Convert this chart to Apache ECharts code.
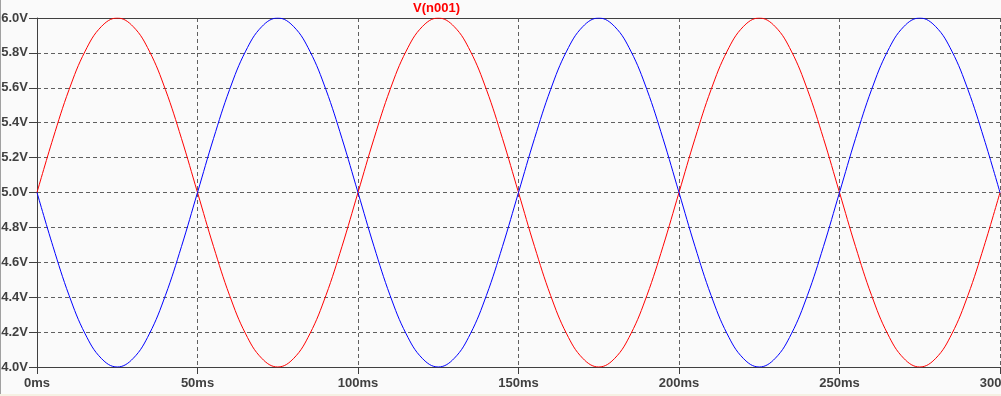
<!DOCTYPE html>
<html>
<head>
<meta charset="utf-8">
<script src="https://cdn.jsdelivr.net/npm/echarts@6/dist/echarts.min.js"></script>
<style>
html,body{margin:0;padding:0;background:#fafafa;}
#c{width:1001px;height:396px;}
</style>
</head>
<body>
<div id="c"></div>
<script>
// time in ms
var timeMs = [0,5,10,15,20,25,30,35,40,45,50,55,60,65,70,75,80,85,90,95,
  100,105,110,115,120,125,130,135,140,145,150,155,160,165,170,175,180,185,190,195,
  200,205,210,215,220,225,230,235,240,245,250,255,260,265,270,275,280,285,290,295,300];
// red trace V(n001)
var redV = [5.00,5.31,5.59,5.81,5.95,6.00,5.95,5.81,5.59,5.31,5.00,4.69,4.41,4.19,4.05,4.00,4.05,4.19,4.41,4.69,
  5.00,5.31,5.59,5.81,5.95,6.00,5.95,5.81,5.59,5.31,5.00,4.69,4.41,4.19,4.05,4.00,4.05,4.19,4.41,4.69,
  5.00,5.31,5.59,5.81,5.95,6.00,5.95,5.81,5.59,5.31,5.00,4.69,4.41,4.19,4.05,4.00,4.05,4.19,4.41,4.69,5.00];
// blue trace
var blueV = [5.00,4.69,4.41,4.19,4.05,4.00,4.05,4.19,4.41,4.69,5.00,5.31,5.59,5.81,5.95,6.00,5.95,5.81,5.59,5.31,
  5.00,4.69,4.41,4.19,4.05,4.00,4.05,4.19,4.41,4.69,5.00,5.31,5.59,5.81,5.95,6.00,5.95,5.81,5.59,5.31,
  5.00,4.69,4.41,4.19,4.05,4.00,4.05,4.19,4.41,4.69,5.00,5.31,5.59,5.81,5.95,6.00,5.95,5.81,5.59,5.31,5.00];
var titleText = 'V(n001)';
var xMin = 0, xMax = 300, xStep = 50;
var yMin = 4.0, yMax = 6.0, yStep = 0.2;

function pairs(xs, ys){ return xs.map(function(x,i){ return [x, ys[i]]; }); }

var axisColor = '#404040';
var labelFont = {color: axisColor, fontFamily: 'Liberation Sans', fontWeight: 'bold', fontSize: 13};

var chart = echarts.init(document.getElementById('c'), null, {renderer: 'canvas'});
chart.setOption({
  backgroundColor: '#fafafa',
  animation: false,
  grid: {left: 37, right: 1, top: 18, bottom: 29, containLabel: false, outerBoundsMode: 'none'},
  xAxis: [{
    type: 'value', min: xMin, max: xMax, interval: xStep,
    axisLine: {show: true, lineStyle: {color: axisColor, width: 1}},
    axisTick: {show: true, length: 7, lineStyle: {color: axisColor}},
    axisLabel: Object.assign({margin: 10, hideOverlap: false, formatter: function(v){ return v + 'ms'; }}, labelFont),
    splitLine: {show: true, lineStyle: {color: '#606060', type: [4, 3], width: 1}}
  }, {
    type: 'value', position: 'top', min: xMin, max: xMax,
    axisLine: {show: true, lineStyle: {color: axisColor, width: 1}},
    axisTick: {show: false}, axisLabel: {show: false}, splitLine: {show: false}
  }],
  yAxis: {
    type: 'value', min: yMin, max: yMax, interval: yStep,
    axisLine: {show: true, lineStyle: {color: axisColor, width: 1}},
    axisTick: {show: true, length: 8, lineStyle: {color: axisColor}},
    axisLabel: Object.assign({margin: 9, formatter: function(v){ return v.toFixed(1) + 'V'; }}, labelFont),
    splitLine: {show: true, lineStyle: {color: '#606060', type: [4, 3], width: 1}}
  },
  series: [{
    name: 'V(n001)', type: 'line', data: pairs(timeMs, redV), showSymbol: false, smooth: 0.4,
    lineStyle: {color: '#ff0000', width: 1}, itemStyle: {color: '#ff0000'}
  }, {
    name: 'blue', type: 'line', data: pairs(timeMs, blueV), showSymbol: false, smooth: 0.4,
    lineStyle: {color: '#0000ff', width: 1}, itemStyle: {color: '#0000ff'}
  }],
  graphic: [
    {type: 'text', left: 413, top: 2, style: {text: titleText, fill: '#ff0000', font: 'bold 13px "Liberation Sans"'}},
    {type: 'rect', shape: {x: 0, y: 0, width: 1, height: 396}, style: {fill: '#a0a0a0'}},
    {type: 'rect', shape: {x: 0, y: 394, width: 1001, height: 2}, style: {fill: '#f5f1e3'}}
  ]
});
</script>
</body>
</html>
